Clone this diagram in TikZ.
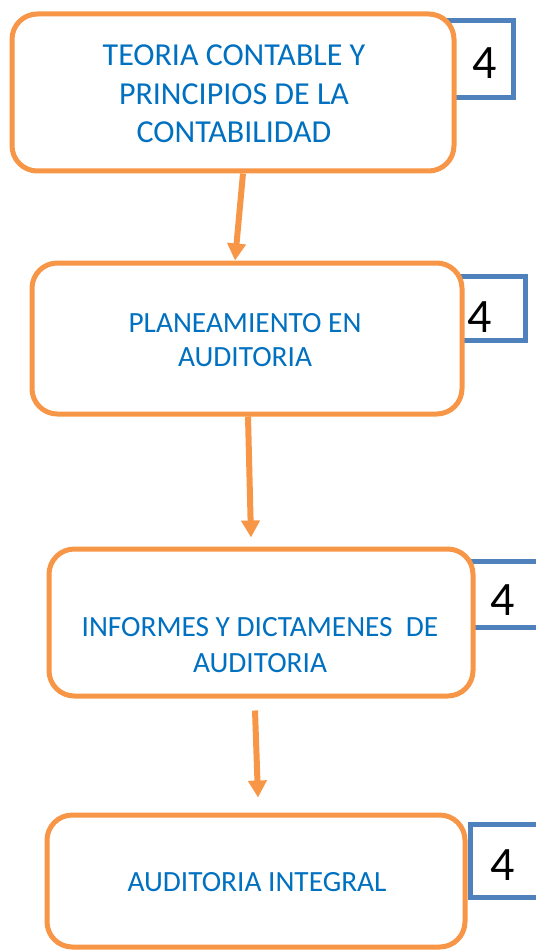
\documentclass[tikz,border=0pt]{standalone}
\usepackage{fontspec}
\setmainfont{Carlito}
\usetikzlibrary{arrows.meta}

\definecolor{temaorange}{RGB}{247,150,70}
\definecolor{notablue}{RGB}{79,129,189}
\definecolor{temablue}{RGB}{0,112,192}

\tikzset{every picture/.style={line width=0.75pt}}
\tikzset{
  tema/.style={draw=temaorange, line width=3.75pt, rounded corners=19pt, fill=white, inner sep=0pt},
  nota/.style={draw=notablue, line width=3.75pt},
  titulo/.style={text=temablue, align=center, inner sep=0pt},
  cifra/.style={inner sep=0pt, font=\fontsize{36}{40}\selectfont},
  flecha/.style={draw=temaorange, line width=4.5pt, -{Triangle[width=13.5pt,length=12.75pt]}}
}

\begin{document}
\begin{tikzpicture}[x=0.75pt,y=0.75pt,yscale=-1,xscale=1]
	\useasboundingbox (0,0) rectangle (535,952);

	%Shape: Rectangle [notas]
	\draw [nota] (440,21) rectangle (513,98) ;
	\draw [nota] (440,276) rectangle (525,340) ;
	\draw [nota] (440,561) rectangle (545,627) ;
	\draw [nota] (470,824) rectangle (545,897) ;

	%Shape: Rounded Rectangle [temas]
	\node [tema, minimum width=331.5pt, minimum height=117.75pt] (teoria) at (233,92.5) {};
	\node [tema, minimum width=322.5pt, minimum height=113.25pt] (planeamiento) at (247,338.5) {};
	\node [tema, minimum width=318pt, minimum height=110.25pt] (informes) at (261,622.5) {};
	\node [tema, minimum width=313.5pt, minimum height=99pt] (integral) at (256,881) {};

	% Text Node
	\node [titulo, font=\fontsize{24}{29}\selectfont] (teoriaT) at (234,94) {TEORIA CONTABLE Y\\PRINCIPIOS DE LA\\CONTABILIDAD};
	% Text Node
	\node [titulo, font=\fontsize{22}{25.5}\selectfont] (planeamientoT) at (245,340) {PLANEAMIENTO EN\\AUDITORIA};
	% Text Node
	\node [titulo, font=\fontsize{22}{27}\selectfont] (informesT) at (260,645) {INFORMES Y DICTAMENES\ \ DE\\AUDITORIA};
	% Text Node
	\node [titulo, font=\fontsize{22}{26}\selectfont] (integralT) at (257,882) {AUDITORIA INTEGRAL};

	% Text Node
	\node [cifra] (nota1) at (485,63) {4};
	\node [cifra] (nota2) at (480,317) {4};
	\node [cifra] (nota3) at (503,600) {4};
	\node [cifra] (nota4) at (503,865) {4};

	%Straight Lines [flechas]
	\draw [flecha] ([xshift=7.5pt]teoria.south) -- ([xshift=-9pt]planeamiento.north) ;
	\draw [flecha] ([xshift=0.75pt]planeamiento.south) -- ([xshift=-7.5pt,yshift=-6.75pt]informes.north) ;
	\draw [flecha] ([xshift=-4.5pt,yshift=9pt]informes.south) -- ([xshift=1.5pt,yshift=-11.25pt]integral.north) ;

\end{tikzpicture}
\end{document}
